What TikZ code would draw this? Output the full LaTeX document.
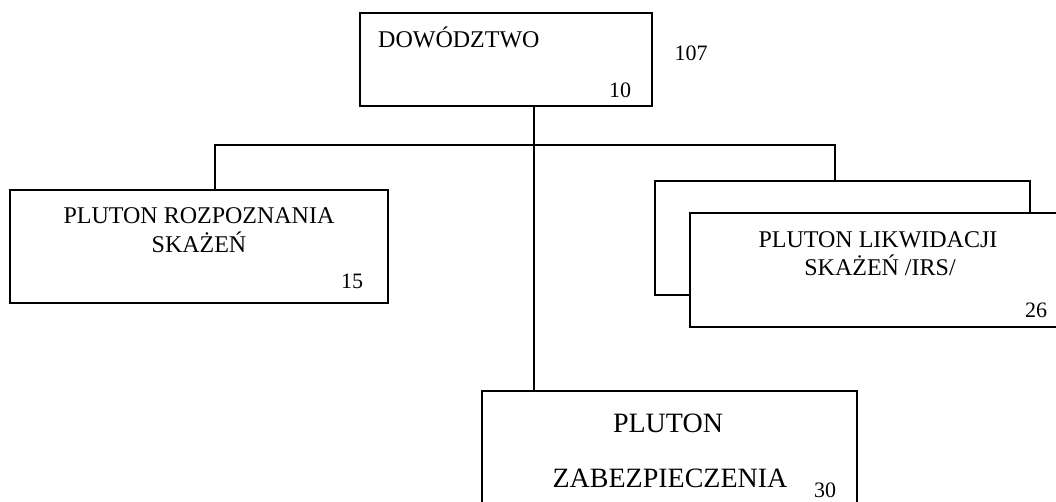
\documentclass[tikz,border=0pt]{standalone}
\usepackage{fontspec}
\setmainfont{Liberation Serif}
\begin{document}
\begin{tikzpicture}[x=1pt,y=-1pt,
  box/.style={draw, line width=1.2pt, fill=white, inner sep=0pt},
  conn/.style={line width=1.1pt},
  lbl/.style={inner sep=0pt, anchor=base, font=\fontsize{24}{28}\selectfont},
  big/.style={inner sep=0pt, anchor=base, font=\fontsize{28}{32}\selectfont},
  num/.style={inner sep=0pt, anchor=base, font=\fontsize{22}{26}\selectfont}]
\useasboundingbox (0,0) rectangle (1056,501);
\clip (0,0) rectangle (1056,501);
% boxes
\node[box, minimum width=292pt, minimum height=93pt] (hq) at (506,59.5) {};
\node[box, minimum width=378pt, minimum height=113pt] (left) at (199,246.5) {};
\node[box, minimum width=375pt, minimum height=114pt] (back) at (842.5,238) {};
\node[box, minimum width=385pt, minimum height=114pt] (front) at (882.5,270) {};
\node[box, minimum width=375pt, minimum height=120pt] (bot) at (669.5,451) {};
% connectors
\coordinate (j) at (534,145);
\coordinate (jl) at (215,145);
\coordinate (jr) at (835,145);
\draw[conn] (j |- hq.south) -- (j |- bot.north);
\draw[conn] (jl |- left.north) -- (jl) -- (jr) -- (jr |- back.north);
% texts
\node[lbl, anchor=base west] (t1) at (378,47) {DOWÓDZTWO};
\node[num] (n10) at (620,97) {10};
\node[num] (n107) at (691,60) {107};
\node[lbl] (t2) at (199,223) {PLUTON ROZPOZNANIA};
\node[lbl] (t3) at (199,252) {SKAŻEŃ};
\node[num] (n15) at (352,288) {15};
\node[lbl] (t4) at (878,247) {PLUTON LIKWIDACJI};
\node[lbl] (t5) at (880,275) {SKAŻEŃ /IRS/};
\node[num] (n26) at (1036,317) {26};
\node[big] (t6) at (668,432) {PLUTON};
\node[big] (t7) at (670,487) {ZABEZPIECZENIA};
\node[num] (n30) at (825,497) {30};
\end{tikzpicture}
\end{document}
